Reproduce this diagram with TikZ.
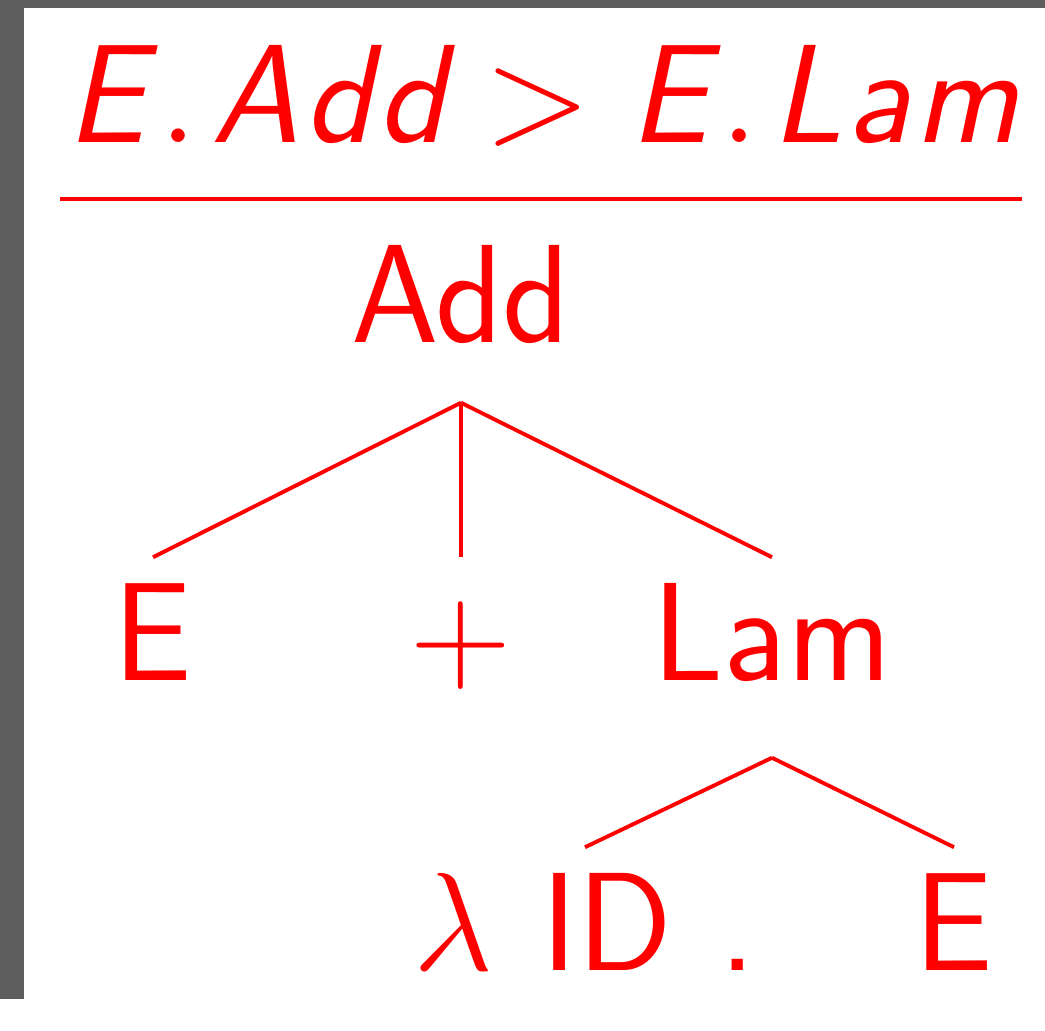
\RequirePackage{fix-cm}
\documentclass[tikz,border=0pt]{standalone}

\definecolor{framegray}{RGB}{94,94,94}
\DeclareMathAlphabet{\mathsfit}{TU}{lmss}{m}{sl}

\begin{document}
\begin{tikzpicture}[
    x=0.01cm, y=-0.01cm,
    every node/.style={font=\fontsize{39.8pt}{48pt}\selectfont\sffamily, text=red},
    lbl/.style={
        anchor=base, text height=0.97cm, text depth=0.35cm,
        inner xsep=0pt, inner ysep=0.25cm
    },
    deep/.style={text depth=0.52cm},
    branch/.style={red, line width=1.1pt},
    rulebar/.style={red, line width=1.4pt}
]

%% ── Frame ───────────────────────────────────────────────────────────
\fill[framegray] (0,0) rectangle (1045,999);
\fill[white] (24,8) rectangle (1045,999);

%% ── Premise and rule ────────────────────────────────────────────────
\node[lbl] (prem) at (543,142)
    {$\mathsfit{E\mkern1.8mu.\mkern1.8mu A\mkern0.7mu d\mkern0.7mu d}
      > \mathsfit{E\mkern1.6mu.\mkern1.6mu L\mkern0.6mu a\mkern0.6mu m}$};
\draw[rulebar] (60,199) -- (1022,199);

%% ── Tree: Add ───────────────────────────────────────────────────────
\node[lbl] (add)  at (461,342) {Add};
\node[lbl] (e1)   at (153,680) {E};
\node[lbl] (plus) at (461,680) {$+$};
\node[lbl, deep] (lam) at (772,680) {Lam};

\draw[branch] (add.south) -- (e1.north);
\draw[branch] (add.south) -- (plus.north);
\draw[branch] (add.south) -- (lam.north);

%% ── Tree: Lam ───────────────────────────────────────────────────────
\node[lbl] (lamid) at (585,970) {$\lambda$\hspace{1pt} ID\hspace{1pt} .};
\node[lbl] (e2)    at (954,970) {E};

\draw[branch] (lam.south) -- (lamid.north);
\draw[branch] (lam.south) -- (e2.north);

\end{tikzpicture}
\end{document}
